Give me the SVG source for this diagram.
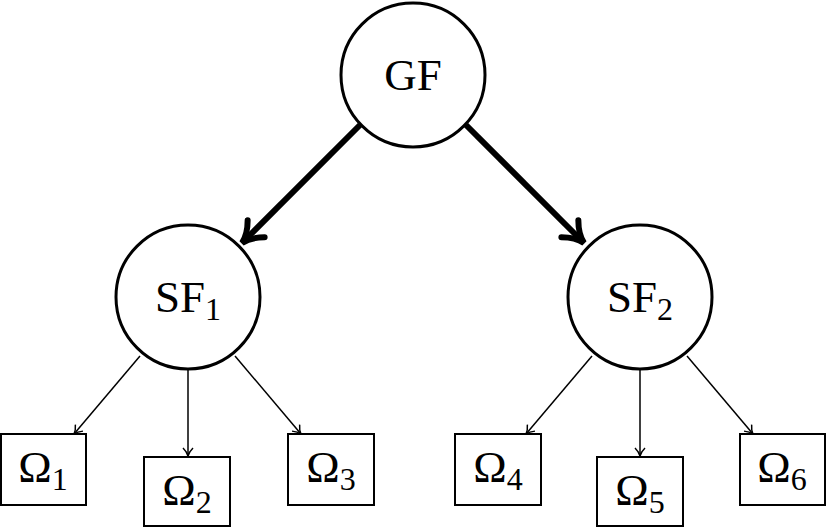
<svg xmlns="http://www.w3.org/2000/svg" width="827" height="528" viewBox="0 0 827 528">
<style>
.n{fill:#fff;stroke:#000;stroke-width:3}
.b{fill:#fff;stroke:#000;stroke-width:2}
.t{font-family:"Liberation Serif",serif;font-size:45px;text-anchor:middle}
.s{font-size:32px}
.thin{stroke:#000;stroke-width:1.5;fill:none}
.thick{stroke:#000;stroke-width:6;fill:none}
</style>
<defs>
<marker id="h" markerWidth="12" markerHeight="12" refX="10" refY="6" orient="auto" markerUnits="userSpaceOnUse">
<path d="M2,1 Q6,5 10,6 Q6,7 2,11" fill="none" stroke="#000" stroke-width="1.5"/>
</marker>
<marker id="H" markerWidth="30" markerHeight="30" refX="25" refY="15" orient="auto" markerUnits="userSpaceOnUse">
<path d="M5,3 Q15,13 25,15 Q15,17 5,27" fill="none" stroke="#000" stroke-width="6" stroke-linecap="round"/>
</marker>
</defs>
<g id="connectors">
<line class="thick" x1="360" y1="125" x2="242" y2="243" marker-end="url(#H)"/>
<line class="thick" x1="466" y1="125" x2="584" y2="243" marker-end="url(#H)"/>
<line class="thin" x1="140" y1="356" x2="74" y2="434" marker-end="url(#h)"/>
<line class="thin" x1="188" y1="370" x2="188" y2="456" marker-end="url(#h)"/>
<line class="thin" x1="235" y1="356" x2="301" y2="434" marker-end="url(#h)"/>
<line class="thin" x1="592" y1="356" x2="526" y2="434" marker-end="url(#h)"/>
<line class="thin" x1="640" y1="370" x2="640" y2="456" marker-end="url(#h)"/>
<line class="thin" x1="687" y1="356" x2="753" y2="434" marker-end="url(#h)"/>
</g>
<g id="GF"><circle class="n" cx="413" cy="75" r="72"/><text class="t" x="413" y="90">GF</text></g>
<g id="SF1"><circle class="n" cx="188" cy="297" r="72"/><text class="t" x="188" y="312">SF<tspan class="s" dy="8">1</tspan></text></g>
<g id="SF2"><circle class="n" cx="640" cy="297" r="72"/><text class="t" x="640" y="312">SF<tspan class="s" dy="8">2</tspan></text></g>
<g id="O1"><rect class="b" x="1" y="434" width="85" height="71"/><text class="t" x="43" y="482">Ω<tspan class="s" dy="8">1</tspan></text></g>
<g id="O2"><rect class="b" x="144" y="457" width="86" height="69"/><text class="t" x="187" y="505">Ω<tspan class="s" dy="8">2</tspan></text></g>
<g id="O3"><rect class="b" x="288" y="434" width="86" height="71"/><text class="t" x="331" y="482">Ω<tspan class="s" dy="8">3</tspan></text></g>
<g id="O4"><rect class="b" x="455" y="434" width="86" height="71"/><text class="t" x="498" y="482">Ω<tspan class="s" dy="8">4</tspan></text></g>
<g id="O5"><rect class="b" x="597" y="457" width="86" height="69"/><text class="t" x="640" y="505">Ω<tspan class="s" dy="8">5</tspan></text></g>
<g id="O6"><rect class="b" x="740" y="434" width="85" height="71"/><text class="t" x="782" y="482">Ω<tspan class="s" dy="8">6</tspan></text></g>
</svg>
